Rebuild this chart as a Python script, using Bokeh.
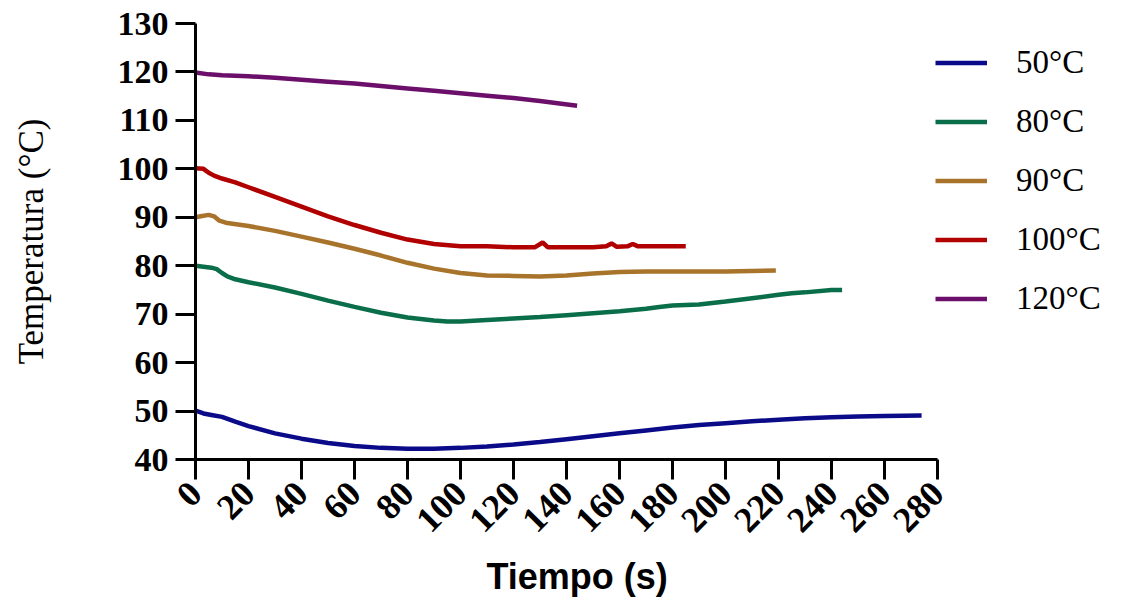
from bokeh.plotting import figure
from bokeh.models import Legend, LegendItem, Range1d, FixedTicker, Title
from bokeh.embed import file_html
from bokeh.resources import INLINE
import math

# ---- data ----
t50 = [0, 3, 6, 10, 15, 20, 30, 40, 50, 60, 70, 80, 90, 100, 110, 120, 130, 140, 150,
       160, 170, 180, 190, 200, 210, 220, 230, 240, 250, 260, 274]
T50 = [50.1, 49.5, 49.2, 48.8, 47.8, 46.9, 45.4, 44.3, 43.4, 42.8, 42.4, 42.2, 42.2, 42.4,
       42.7, 43.1, 43.6, 44.2, 44.8, 45.4, 46.0, 46.6, 47.1, 47.5, 47.9, 48.2, 48.5, 48.7,
       48.9, 49.0, 49.1]

t80 = [0, 3, 6, 8, 10, 12, 15, 20, 30, 40, 50, 60, 70, 80, 90, 95, 100, 110, 120, 130,
       140, 150, 160, 170, 175, 180, 190, 200, 210, 220, 225, 230, 240, 244]
T80 = [80.0, 79.8, 79.6, 79.3, 78.5, 77.8, 77.2, 76.6, 75.5, 74.2, 72.8, 71.5, 70.3, 69.3,
       68.7, 68.5, 68.5, 68.8, 69.1, 69.4, 69.8, 70.2, 70.6, 71.1, 71.5, 71.8, 72.0, 72.6,
       73.3, 74.0, 74.3, 74.5, 75.0, 75.0]

t90 = [0, 2, 5, 7, 9, 12, 20, 30, 40, 50, 60, 70, 80, 90, 100, 110, 120, 130, 140, 150,
       160, 170, 180, 200, 219]
T90 = [90.0, 90.2, 90.5, 90.2, 89.3, 88.8, 88.2, 87.2, 86.0, 84.8, 83.5, 82.1, 80.6, 79.4,
       78.5, 78.0, 77.9, 77.8, 78.0, 78.4, 78.7, 78.8, 78.8, 78.8, 79.0]

t100 = [0, 3, 5, 7, 10, 15, 20, 30, 40, 50, 60, 70, 80, 90, 100, 110, 120, 128, 131, 133,
        135, 150, 155, 157, 159, 163, 165, 167, 175, 185]
T100 = [100.1, 100.0, 99.2, 98.6, 98.0, 97.2, 96.2, 94.2, 92.2, 90.2, 88.4, 86.8, 85.4,
        84.5, 84.0, 84.0, 83.8, 83.8, 84.8, 83.8, 83.8, 83.8, 84.0, 84.6, 83.9, 84.0, 84.5,
        84.0, 84.0, 84.0]

t120 = [0, 5, 10, 20, 30, 40, 50, 60, 70, 80, 90, 100, 110, 120, 130, 144]
T120 = [119.9, 119.5, 119.3, 119.1, 118.8, 118.4, 118.0, 117.6, 117.1, 116.6, 116.1, 115.6,
        115.1, 114.6, 114.0, 113.0]

series_labels = ["50°C", "80°C", "90°C", "100°C", "120°C"]
series_colors = ["#0b0b8a", "#0a6e4a", "#a8732a", "#b00000", "#6b0f6b"]
x_ticks = list(range(0, 281, 20))
y_ticks = list(range(40, 131, 10))

W, H = 1115, 608
LEFT, TOP = 195, 23
BOTTOM = H - 459
frame_w = W - LEFT          # frame runs to the right edge so the legend fits inside it
x_end = 280 * frame_w / 742.0  # 742 px for 0..280 as in the reference

p = figure(width=W, height=H, output_backend="svg", toolbar_location=None,
           x_range=Range1d(0, x_end), y_range=Range1d(40, 130),
           min_border_left=LEFT, min_border_right=0, min_border_top=TOP,
           min_border_bottom=BOTTOM)
p.outline_line_color = None
p.grid.visible = False
p.background_fill_color = "white"
p.border_fill_color = "white"

for ax in (p.xaxis[0], p.yaxis[0]):
    ax.axis_line_width = 3
    ax.axis_line_color = "black"
    ax.major_tick_line_width = 3
    ax.major_tick_line_color = "black"
    ax.major_tick_out = 20
    ax.major_tick_in = 0
    ax.minor_tick_line_color = None
    ax.major_label_text_font = "Liberation Serif"
    ax.major_label_text_font_style = "bold"
    ax.major_label_text_color = "black"

p.xaxis.bounds = (0, 280)
p.xaxis.ticker = FixedTicker(ticks=x_ticks)
p.yaxis.ticker = FixedTicker(ticks=y_ticks)
p.yaxis.major_label_text_font_size = "34px"
p.yaxis.major_label_standoff = 7
p.xaxis.major_label_text_font_size = "36px"
p.xaxis.major_label_orientation = math.pi / 4
p.xaxis.major_label_standoff = 8

# x-axis title placed as a below-title so it can sit under the drawn axis
xtitle = Title(text="Tiempo (s)", align="left", offset=291,
               text_font="Liberation Sans", text_font_style="bold",
               text_font_size="36px", text_color="black", standoff=16)
p.add_layout(xtitle, "below")

p.yaxis.axis_label = "Temperatura (°C)"
p.yaxis.axis_label_text_font = "Liberation Serif"
p.yaxis.axis_label_text_font_style = "normal"
p.yaxis.axis_label_text_font_size = "35px"
p.yaxis.axis_label_text_color = "black"
p.yaxis.axis_label_standoff = 64

data = [(t50, T50), (t80, T80), (t90, T90), (t100, T100), (t120, T120)]
items = []
for (tx, ty), lab, col in zip(data, series_labels, series_colors):
    ln = p.line(tx, ty, line_color=col, line_width=4.5)
    items.append(LegendItem(label=lab, renderers=[ln]))

legend = Legend(items=items, location=(740, 142), orientation="vertical",
                glyph_width=52, glyph_height=37, label_height=37, spacing=22,
                label_standoff=29, padding=0, margin=0,
                label_text_font="Liberation Serif", label_text_font_size="33px",
                label_text_color="black",
                border_line_color=None, background_fill_alpha=0)
p.add_layout(legend, "center")

open("out.html", "w").write(file_html(p, INLINE))
